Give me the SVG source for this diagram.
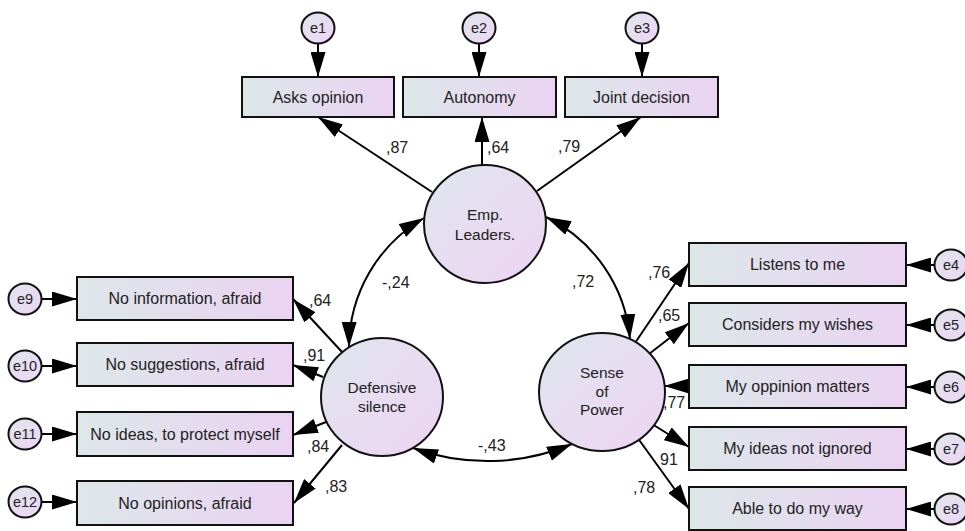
<svg xmlns="http://www.w3.org/2000/svg" width="965" height="531" viewBox="0 0 965 531">
<style>
.box{stroke:#111;stroke-width:2;fill:url(#gb)}
.lat{stroke:#111;stroke-width:2;fill:url(#gc)}
.err{stroke:#111;stroke-width:2;fill:url(#gc)}
.t{font-family:"Liberation Sans",Arial,sans-serif;font-size:16px;fill:#222;text-anchor:middle}
.te{font-family:"Liberation Sans",Arial,sans-serif;font-size:14.5px;fill:#222;text-anchor:middle}
.tl{font-family:"Liberation Sans",Arial,sans-serif;font-size:15.5px;fill:#222;text-anchor:middle}
.lab{font-family:"Liberation Sans",Arial,sans-serif;font-size:16px;fill:#222}
.c{stroke:#000;stroke-width:2;fill:none;marker-end:url(#ah)}
.d{stroke:#000;stroke-width:2;fill:none;marker-end:url(#ah);marker-start:url(#ah)}
</style>
<defs>
<linearGradient id="gb" x1="0" y1="0" x2="1" y2="0"><stop offset="0" stop-color="#dde7e9"/><stop offset="1" stop-color="#ead3f2"/></linearGradient>
<linearGradient id="gc" x1="0" y1="0" x2="1" y2="1"><stop offset="0" stop-color="#dfe6ee"/><stop offset="1" stop-color="#eed4f3"/></linearGradient>
<marker id="ah" markerUnits="userSpaceOnUse" markerWidth="25" markerHeight="15" refX="25" refY="7.5" orient="auto-start-reverse"><path d="M0,0 L25,7.5 L0,15 z" fill="#000"/></marker>
</defs>
<g id="connectors">
<path class="c" d="M318,44 L318,77"/>
<path class="c" d="M479,44 L479,77"/>
<path class="c" d="M642,44 L642,77"/>
<path class="c" d="M41,299 L77,299"/>
<path class="c" d="M41,366 L77,366"/>
<path class="c" d="M41,434 L77,434"/>
<path class="c" d="M41,502 L77,502"/>
<path class="c" d="M935,265 L906,265"/>
<path class="c" d="M935,325 L906,325"/>
<path class="c" d="M935,387 L906,387"/>
<path class="c" d="M935,449 L906,449"/>
<path class="c" d="M935,509 L906,509"/>
<path class="c" d="M432,192 L318,117"/>
<path class="c" d="M482,165 L482,117"/>
<path class="c" d="M537,191 L641,117"/>
<path class="c" d="M342,352 L293,299"/>
<path class="c" d="M323,377 L293,365"/>
<path class="c" d="M326,422 L293,435"/>
<path class="c" d="M342,445 L294,503"/>
<path class="c" d="M635,343 L689,263"/>
<path class="c" d="M649,354 L689,323"/>
<path class="c" d="M689,386 L664,386"/>
<path class="c" d="M652,424 L689,447"/>
<path class="c" d="M637,437 L689,509"/>
<path class="d" d="M349,347 A150,150 0 0 1 424,218"/>
<path class="d" d="M546,217 A150,150 0 0 1 630,339"/>
<path class="d" d="M413,448 A218,218 0 0 0 572,444"/>
</g>
<g id="labels">
<text class="lab" x="386" y="153">,87</text>
<text class="lab" x="487" y="153">,64</text>
<text class="lab" x="558" y="152">,79</text>
<text class="lab" x="382" y="288">-,24</text>
<text class="lab" x="572" y="287">,72</text>
<text class="lab" x="309" y="306">,64</text>
<text class="lab" x="303" y="361">,91</text>
<text class="lab" x="307" y="452">,84</text>
<text class="lab" x="325" y="492">,83</text>
<text class="lab" x="648" y="278">,76</text>
<text class="lab" x="658" y="321">,65</text>
<text class="lab" x="663" y="408">,77</text>
<text class="lab" x="660" y="465">91</text>
<text class="lab" x="633" y="493">,78</text>
<text class="lab" x="478" y="451">-,43</text>
</g>
<g id="e1"><ellipse class="err" cx="318" cy="28" rx="16.5" ry="15.5"/><text class="te" x="318" y="33">e1</text></g>
<g id="e2"><ellipse class="err" cx="479" cy="28" rx="16.5" ry="15.5"/><text class="te" x="479" y="33">e2</text></g>
<g id="e3"><ellipse class="err" cx="642" cy="28" rx="16.5" ry="15.5"/><text class="te" x="642" y="33">e3</text></g>
<g id="e4"><ellipse class="err" cx="951" cy="265" rx="16.5" ry="15.5"/><text class="te" x="951" y="270">e4</text></g>
<g id="e5"><ellipse class="err" cx="951" cy="325" rx="16.5" ry="15.5"/><text class="te" x="951" y="330">e5</text></g>
<g id="e6"><ellipse class="err" cx="951" cy="387" rx="16.5" ry="15.5"/><text class="te" x="951" y="392">e6</text></g>
<g id="e7"><ellipse class="err" cx="951" cy="449" rx="16.5" ry="15.5"/><text class="te" x="951" y="454">e7</text></g>
<g id="e8"><ellipse class="err" cx="951" cy="509" rx="16.5" ry="15.5"/><text class="te" x="951" y="514">e8</text></g>
<g id="e9"><ellipse class="err" cx="25" cy="299" rx="16.5" ry="15.5"/><text class="te" x="25" y="304">e9</text></g>
<g id="e10"><ellipse class="err" cx="25" cy="366" rx="16.5" ry="15.5"/><text class="te" x="25" y="371">e10</text></g>
<g id="e11"><ellipse class="err" cx="25" cy="434" rx="16.5" ry="15.5"/><text class="te" x="25" y="439">e11</text></g>
<g id="e12"><ellipse class="err" cx="25" cy="502" rx="16.5" ry="15.5"/><text class="te" x="25" y="507">e12</text></g>
<g id="asks"><rect class="box" x="242" y="77" width="152" height="40"/><text class="t" x="318" y="103">Asks opinion</text></g>
<g id="autonomy"><rect class="box" x="403" y="77" width="153" height="40"/><text class="t" x="479.5" y="103">Autonomy</text></g>
<g id="joint"><rect class="box" x="565" y="77" width="153" height="40"/><text class="t" x="641.5" y="103">Joint decision</text></g>
<g id="noinfo"><rect class="box" x="77" y="277" width="216" height="43"/><text class="t" x="185" y="304">No information, afraid</text></g>
<g id="nosugg"><rect class="box" x="77" y="343" width="216" height="43"/><text class="t" x="185" y="370">No suggestions, afraid</text></g>
<g id="noideas"><rect class="box" x="77" y="412" width="216" height="44"/><text class="t" x="185" y="439.5">No ideas, to protect myself</text></g>
<g id="noopin"><rect class="box" x="77" y="481" width="216" height="44"/><text class="t" x="185" y="508.5">No opinions, afraid</text></g>
<g id="listens"><rect class="box" x="689" y="243" width="217" height="43"/><text class="t" x="797.5" y="270">Listens to me</text></g>
<g id="considers"><rect class="box" x="689" y="303" width="217" height="43"/><text class="t" x="797.5" y="330">Considers my wishes</text></g>
<g id="oppinion"><rect class="box" x="689" y="365" width="217" height="43"/><text class="t" x="797.5" y="392">My oppinion matters</text></g>
<g id="ideas"><rect class="box" x="689" y="427" width="217" height="43"/><text class="t" x="797.5" y="454">My ideas not ignored</text></g>
<g id="able"><rect class="box" x="689" y="487" width="217" height="43"/><text class="t" x="797.5" y="514">Able to do my way</text></g>
<g id="emp"><ellipse class="lat" cx="485" cy="224" rx="61" ry="59"/><text class="tl" x="485" y="220">Emp.</text><text class="tl" x="485" y="240">Leaders.</text></g>
<g id="defensive"><ellipse class="lat" cx="382" cy="397" rx="61" ry="59"/><text class="tl" x="382" y="393">Defensive</text><text class="tl" x="382" y="412">silence</text></g>
<g id="power"><ellipse class="lat" cx="602" cy="392" rx="63" ry="59"/><text class="tl" x="602" y="378">Sense</text><text class="tl" x="602" y="397">of</text><text class="tl" x="602" y="415">Power</text></g>
</svg>
